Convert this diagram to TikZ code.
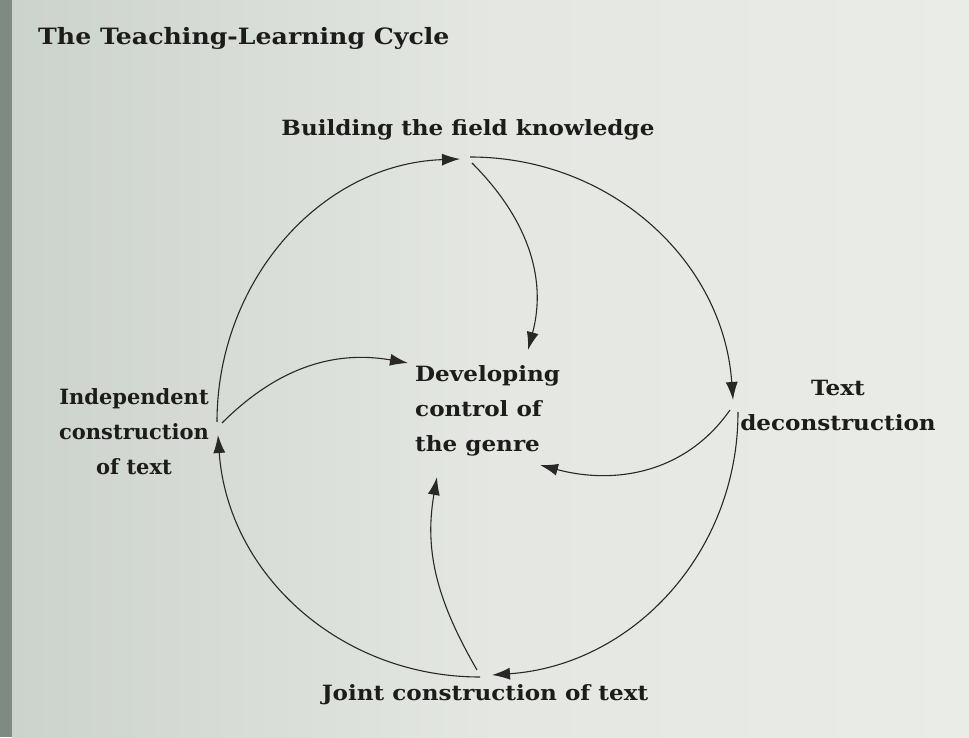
\documentclass[tikz,border=0pt]{standalone}
\usepackage{fontspec}
\setmainfont{DejaVu Serif}[FakeStretch=1.1]
\newfontfamily\titlefont{DejaVu Serif}[FakeStretch=1.12]
\newfontfamily\narrowfont{DejaVu Serif}
\usepackage{xcolor}
\usepackage{tikz}
\usetikzlibrary{arrows.meta}

\begin{document}
\begin{tikzpicture}[x=1pt,y=1pt]
    \definecolor{mypaper}{RGB}{234,236,231}
    \definecolor{mypaperd}{RGB}{204,211,204}
    \definecolor{myedge}{RGB}{126,138,130}
    \definecolor{myink}{RGB}{28,28,26}
    \definecolor{myline}{RGB}{40,40,38}

    \tikzstyle{label}=[inner sep=0pt,text=myink,font=\fontsize{21}{35}\selectfont\bfseries]  % text blocks
    \tikzstyle{link}=[line width=1.1pt,draw=myline,-{Latex[length=18pt,width=12pt]}]  % curved arrows

    % page
    \useasboundingbox (0,0) rectangle (969,737);
    \fill[myedge] (0,0) rectangle (12,737);
    \shade[left color=mypaperd,right color=mypaper,middle color=mypaper!80!mypaperd] (12,0) rectangle (969,737);

    % nodes
    \node[label,anchor=west,font=\titlefont\fontsize{22.5}{27}\selectfont\bfseries] (title) at (38,699) {The Teaching-Learning Cycle};
    \node[label] (build) at (468,607) {Building the field knowledge};
    \node[label,anchor=west,align=left] (genre) at (415,326) {Developing\\control of\\the genre};
    \node[label,align=center] (decon) at (838,332) {Text\\deconstruction};
    \node[label,align=center,font=\narrowfont\fontsize{21}{35}\selectfont\bfseries] (indep) at (134,305) {Independent\\construction\\of text};
    \node[label] (joint) at (485,42) {Joint construction of text};

    % end points of the arrows
    \coordinate (indep-up) at (217,315);
    \coordinate (indep-in) at (218,302);
    \coordinate (indep-g) at (222,314);
    \coordinate (build-in) at (460,578);
    \coordinate (build-r) at (470,580);
    \coordinate (build-g) at (472,574);
    \coordinate (decon-in) at (733,337);
    \coordinate (decon-dn) at (738,325);
    \coordinate (decon-g) at (730,327);
    \coordinate (joint-in) at (492,62);
    \coordinate (joint-l) at (480,60);
    \coordinate (joint-g) at (477,67);
    \coordinate (genre-n) at (528,387);
    \coordinate (genre-w) at (408,374);
    \coordinate (genre-e) at (540,272);
    \coordinate (genre-s) at (437,260);

    % outer cycle
    \draw[link] (indep-up) to[out=90,in=182] (build-in);
    \draw[link] (build-r) to[out=0,in=94] (decon-in);
    \draw[link] (decon-dn) to[out=-90,in=4] (joint-in);
    \draw[link] (joint-l) to[out=180,in=-86] (indep-in);
    % into the centre
    \draw[link] (build-g) to[out=-45,in=75] (genre-n);
    \draw[link] (decon-g) to[out=-125,in=-15] (genre-e);
    \draw[link] (joint-g) to[out=120,in=-100] (genre-s);
    \draw[link] (indep-g) to[out=45,in=170] (genre-w);
\end{tikzpicture}
\end{document}
